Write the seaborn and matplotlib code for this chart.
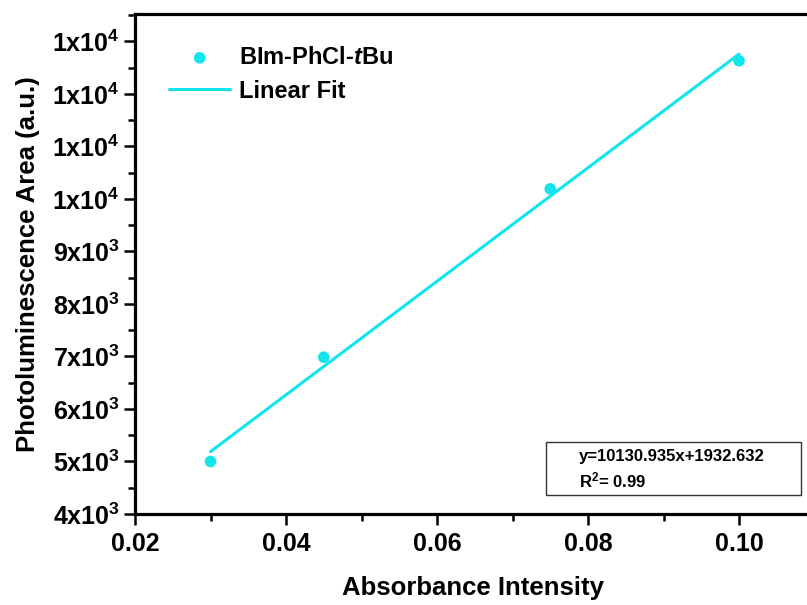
import numpy as np
import matplotlib
matplotlib.use("Agg")
from matplotlib import pyplot as plt
from matplotlib.patches import Rectangle
from matplotlib.ticker import FuncFormatter, MultipleLocator
import seaborn as sns

# data
absorbance = [0.030, 0.045, 0.075, 0.100]
pl_area = [5000, 6985, 10190, 12630]
series_name = "BIm-PhCl-$\\mathit{t}$Bu"
fit_name = "Linear Fit"
fit_text = "y=10130.935x+1932.632"
r2_text = "R$^2$= 0.99"

cyan = "#12E6EA"

sns.set_style("ticks")
plt.rcParams["font.family"] = ["Liberation Sans", "DejaVu Sans"]
plt.rcParams["font.weight"] = "bold"
plt.rcParams["text.color"] = "black"
plt.rcParams["axes.labelcolor"] = "black"
plt.rcParams["xtick.color"] = "black"
plt.rcParams["ytick.color"] = "black"
plt.rcParams["mathtext.fontset"] = "custom"
plt.rcParams["mathtext.rm"] = "Liberation Sans:bold"
plt.rcParams["mathtext.it"] = "Liberation Sans:italic:bold"
plt.rcParams["mathtext.default"] = "rm"

fig = plt.figure(figsize=(8.07, 6.05), dpi=100)
ax = fig.add_axes([135 / 807, 91 / 605, 679.5 / 807, 500 / 605])

sns.scatterplot(x=absorbance, y=pl_area, ax=ax, color=cyan, s=70,
                edgecolor="none", label=series_name, zorder=3)
sns.regplot(x=absorbance, y=pl_area, ax=ax, scatter=False, ci=None,
            truncate=True, color=cyan, label=fit_name, line_kws={"lw": 2.2})

ax.set_xlim(0.02, 0.11)
ax.set_ylim(4000, 13520)
ax.xaxis.set_major_locator(MultipleLocator(0.02))
ax.xaxis.set_minor_locator(MultipleLocator(0.01))
ax.yaxis.set_major_locator(MultipleLocator(1000))
ax.yaxis.set_minor_locator(MultipleLocator(500))
ax.xaxis.set_major_formatter(FuncFormatter(lambda v, p: f"{v:.2f}"))


def sci(v, p):
    e = int(np.floor(np.log10(v)))
    m = int(round(v / 10 ** e))
    return f"{m}x10$^{{{e}}}$"


ax.yaxis.set_major_formatter(FuncFormatter(sci))

for s in ["left", "bottom", "top"]:
    ax.spines[s].set_linewidth(2.3)
    ax.spines[s].set_color("black")
ax.spines["right"].set_visible(False)
ax.tick_params(which="major", direction="out", length=8, width=1.8,
               labelsize=18, color="black", labelcolor="black")
ax.tick_params(which="minor", direction="out", length=5, width=1.8, color="black")
ax.tick_params(axis="x", pad=5)
ax.tick_params(axis="y", pad=3)

ax.set_xlabel("Absorbance Intensity", fontsize=18.5, fontweight="bold")
ax.set_ylabel("Photoluminescence Area (a.u.)", fontsize=18.5, fontweight="bold")
ax.xaxis.set_label_coords(0.497, -0.125)
ax.yaxis.set_label_coords(-0.14, 0.5)

ax.legend(loc="upper left", bbox_to_anchor=(0.05, 0.936), frameon=False,
          fontsize=17, borderpad=0, borderaxespad=0, handlelength=2.6,
          handletextpad=0.35, labelspacing=0.45)

fig.patches.append(Rectangle((546 / 807, 110 / 605), 255 / 807, 53 / 605,
                             transform=fig.transFigure, fill=False,
                             edgecolor="#333333", lw=1.0))
fig.text(579 / 807, 1 - 457 / 605, fit_text, fontsize=12, fontweight="bold",
         va="center", ha="left")
fig.text(579 / 807, 1 - 480 / 605, r2_text, fontsize=12, fontweight="bold",
         va="center", ha="left")

fig.savefig("out.png", dpi=100)
